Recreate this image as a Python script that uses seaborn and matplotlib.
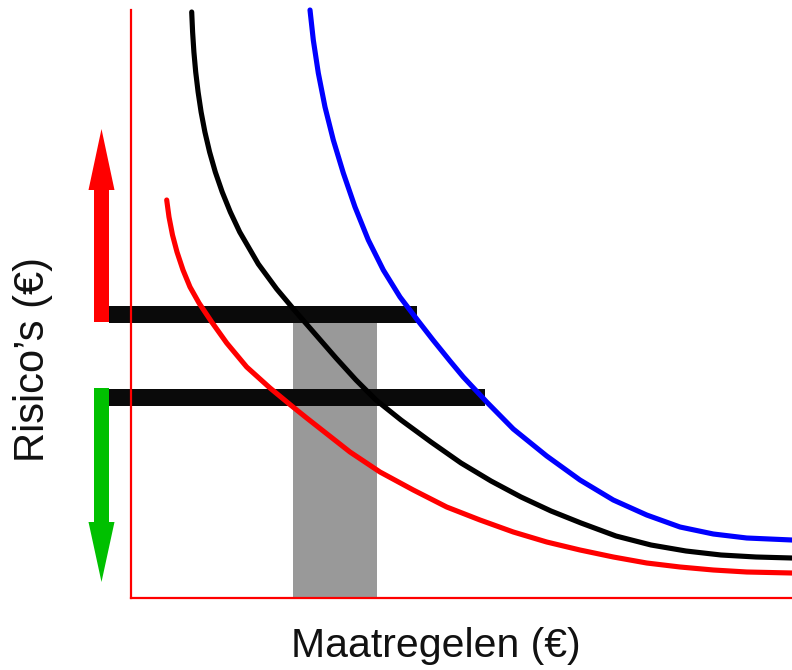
import matplotlib
matplotlib.use("Agg")
import matplotlib.pyplot as plt
import seaborn as sns
import pandas as pd

sns.set_style("white")
plt.rcParams['font.family'] = ['Liberation Sans', 'DejaVu Sans']

# Curves (x: Maatregelen, y: Risico's)
red_x = [35.7, 38, 41.5, 46, 52, 59, 68, 80.7, 95.7, 115.7, 139, 162, 175.7, 219, 249,
         282.3, 315.7, 349, 382.3, 415.7, 449, 482.3, 515.7, 549, 582.3, 615.7, 661]
red_y = [398, 381, 363, 346, 328, 311, 295, 276, 255, 231, 210, 191, 180, 146, 126,
         108, 91, 78, 66, 56, 48, 41, 35, 31, 28, 26, 25]

black_x = [60.7, 61.6, 62.9, 64.7, 67.1, 70.1, 73.9, 78.6, 84.3, 91.2, 99.3, 108.7,
           127.3, 145.7, 165, 185, 205, 225, 245, 270, 300, 330, 360, 390, 420, 450,
           485, 520, 555, 590, 625, 661]
black_y = [586, 566, 546, 526, 506, 486, 466, 446, 426, 406, 386, 366,
           334, 309, 286, 263, 240, 218, 198, 178, 156, 135, 117, 101, 87, 75,
           62, 53, 47, 43, 41, 40]

blue_x = [179, 182.3, 187.3, 194, 202.3, 212.3, 224, 237.3, 252.3, 269, 285.7, 302,
          319, 332.3, 355.7, 382.3, 415.7, 449, 482.3, 515.7, 549, 582.3, 615.7, 661]
blue_y = [588, 558, 525, 491, 458, 425, 391, 358, 328, 301, 279, 258,
          237, 221, 196, 169, 142, 118, 98, 83, 71, 64, 60, 58]

# Horizontal risk levels and their extents
level_y = [284, 201]
level_start = [-22, -22]
level_end = [286, 354]

# Shaded band of measures
band_x0, band_x1 = 162, 246
band_top = 284

# Arrows
up_arrow = dict(x=-29.5, y0=276, y1=469)
down_arrow = dict(x=-29.5, y0=210, y1=16)

fig = plt.figure(figsize=(7.92, 6.70), dpi=100)
ax = fig.add_axes([131/792, 72/670, 661/792, 588/670])
ax.set_xlim(0, 661)
ax.set_ylim(0, 588)

# gray band
ax.bar([(band_x0 + band_x1) / 2], [band_top], width=band_x1 - band_x0,
       color="#999999", zorder=1, linewidth=0)

# black thick levels
for y, s, e in zip(level_y, level_start, level_end):
    ax.barh([y], [e - s], left=s, height=17, color="#0a0a0a", zorder=2,
            linewidth=0, clip_on=False)

# arrows
ax.arrow(up_arrow['x'], up_arrow['y0'], 0, up_arrow['y1'] - up_arrow['y0'],
         width=15, head_width=26, head_length=61, length_includes_head=True,
         color="#ff0000", linewidth=0, clip_on=False, zorder=3)
ax.arrow(down_arrow['x'], down_arrow['y0'], 0, down_arrow['y1'] - down_arrow['y0'],
         width=15, head_width=26, head_length=60, length_includes_head=True,
         color="#00c000", linewidth=0, clip_on=False, zorder=3)

# curves
for xs, ys, c in [(red_x, red_y, "#ff0000"), (black_x, black_y, "#000000"),
                  (blue_x, blue_y, "#0000ff")]:
    df = pd.DataFrame({"x": xs, "y": ys})
    sns.lineplot(data=df, x="x", y="y", ax=ax, color=c, linewidth=3.7,
                 sort=False, estimator=None, zorder=4, clip_on=False,
                 solid_capstyle="round", solid_joinstyle="round")

sns.despine(ax=ax, top=True, right=True)
for s in ["left", "bottom"]:
    ax.spines[s].set_color("#ff0000")
    ax.spines[s].set_linewidth(1.6)
ax.set_xticks([])
ax.set_yticks([])
ax.set_xlabel("")
ax.set_ylabel("")

fig.text(436/792, 1 - 646/670, "Maatregelen (€)", ha="center", va="center",
         fontsize=29.5, color="#111111")
fig.text(33/792, 1 - 360/670, "Risico\u2019s (€)", ha="center", va="center",
         fontsize=30, rotation=90, color="#111111")

fig.savefig("out.png", dpi=100, facecolor="white")
